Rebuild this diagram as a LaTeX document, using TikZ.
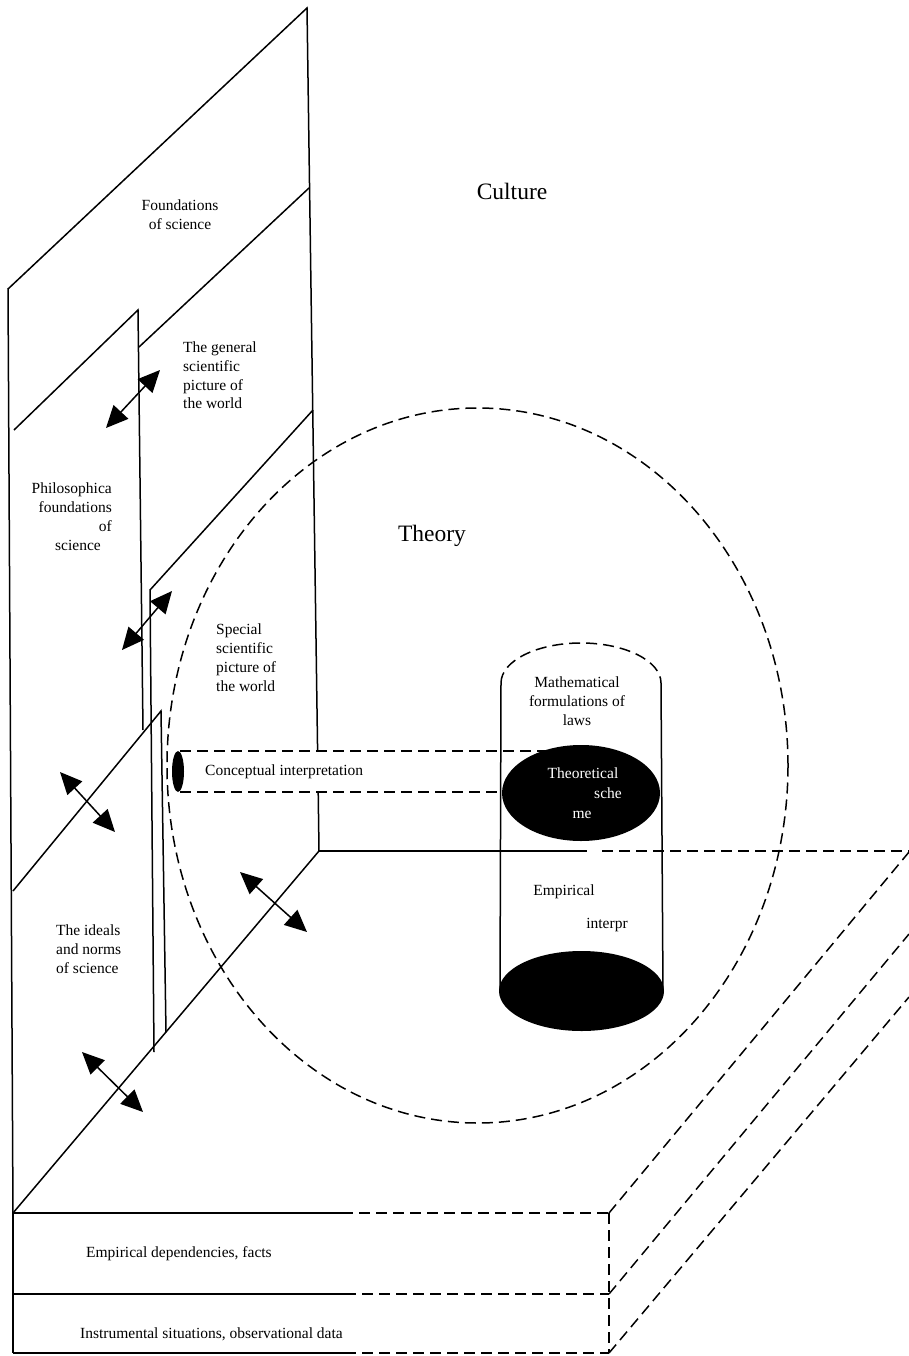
\documentclass[tikz,border=0pt]{standalone}
\usepackage{fontspec}
\setmainfont{Liberation Serif}
\usetikzlibrary{arrows.meta}
\begin{document}
\begin{tikzpicture}[x=1pt,y=-1pt,
  ln/.style={line width=1.5pt, line join=miter},
  dsh/.style={line width=1.5pt, dash pattern=on 11pt off 6pt},
  dbl/.style={line width=1.5pt, {Triangle[length=22pt,width=20pt]}-{Triangle[length=22pt,width=20pt]}},
  lbl/.style={inner sep=0pt, font=\fontsize{15.5}{19}\selectfont},
  bigl/.style={inner sep=0pt, font=\fontsize{23.5}{28}\selectfont}]
\useasboundingbox (0,0) rectangle (909,1356);
% main plane
\coordinate (FTL) at (8,289);
\coordinate (FTR) at (307,8);
\coordinate (FBR) at (319,851);
\coordinate (FBL) at (13,1213);
\coordinate (RE1) at (317.6,751);
\coordinate (RE2) at (318.2,792);
\draw[ln] (FBL) -- (FTL) -- (FTR) -- (RE1);
\draw[ln] (RE2) -- (FBR) -- (FBL);
% floor top line
\draw[ln] (FBR) -- (587,851);
\draw[dsh] (602,851) -- (909,851);
% inner planes
\draw[ln] (139,347) -- (309,188);
\draw[ln] (14,430) -- (138,310) -- (143,730);
\draw[ln] (313,410) -- (150,590) -- (154,1052);
\draw[ln] (13,891) -- (161,711) -- (166,1032);
% bottom boxes
\coordinate (B1L) at (13,1213); \coordinate (B1R) at (609,1213);
\coordinate (B2L) at (13,1294); \coordinate (B2R) at (609,1294);
\coordinate (B3L) at (13,1353); \coordinate (B3R) at (609,1353);
\draw[ln] (B1L) -- (B3L);
\draw[ln] (B1L) -- (342,1213); \draw[dsh] (342,1213) -- (B1R);
\draw[ln] (B2L) -- (345,1294); \draw[dsh] (345,1294) -- (B2R);
\draw[ln] (B3L) -- (345,1353); \draw[dsh] (345,1353) -- (B3R);
\draw[dsh] (B1R) -- (B3R);
\draw[dsh] (B1R) -- (909,852);
\draw[dsh] (B2R) -- (909,934);
\draw[dsh] (B3R) -- (909,997);
% conceptual interpretation band
\draw[dsh] (180,751) -- (545,751);
\draw[dsh] (180,792) -- (506,792);
\fill (178,771.5) ellipse [x radius=6, y radius=20.5];
% cylinder
\draw[ln] (501,683) -- (500,991);
\draw[ln] (661,683) -- (663,991);
\draw[dsh] (501,683) arc[start angle=180, end angle=360, x radius=80, y radius=40];
\fill (581,793) ellipse [x radius=79, y radius=48];
\fill (581.5,991) ellipse [x radius=82.5, y radius=40];
% theory
\draw[dsh] (477.5,765.5) ellipse [x radius=310.5, y radius=357.5];
% double arrows
\coordinate (a1) at (106,428); \coordinate (b1) at (160,370);
\coordinate (a2) at (122,650); \coordinate (b2) at (172,591);
\coordinate (a3) at (60,772);  \coordinate (b3) at (115,832);
\coordinate (a4) at (240,872); \coordinate (b4) at (307,932);
\coordinate (a5) at (82,1052); \coordinate (b5) at (143,1112);
\draw[dbl] (a1) -- (b1);
\draw[dbl] (a2) -- (b2);
\draw[dbl] (a3) -- (b3);
\draw[dbl] (a4) -- (b4);
\draw[dbl] (a5) -- (b5);
% texts
\node[bigl, anchor=base] (cult) at (512,200) {Culture};
\node[bigl, anchor=base] (theo) at (432,541) {Theory};
\node[lbl, anchor=base] (f1) at (180,211) {Foundations};
\node[lbl, anchor=base] (f2) at (180,230) {of science};
\node[lbl, anchor=base west] (g1) at (183,352) {The general};
\node[lbl, anchor=base west] (g2) at (183,371) {scientific};
\node[lbl, anchor=base west] (g3) at (183,390) {picture of};
\node[lbl, anchor=base west] (g4) at (183,408) {the world};
\node[lbl, anchor=base east] (p1) at (112,493) {Philosophica};
\node[lbl, anchor=base east] (p2) at (112,512) {foundations};
\node[lbl, anchor=base east] (p3) at (112,531) {of};
\node[lbl, anchor=base] (p4) at (78,550) {science};
\node[lbl, anchor=base west] (s1) at (216,634) {Special};
\node[lbl, anchor=base west] (s2) at (216,653) {scientific};
\node[lbl, anchor=base west] (s3) at (216,672) {picture of};
\node[lbl, anchor=base west] (s4) at (216,691) {the world};
\node[lbl, anchor=base west] (ci) at (205,775) {Conceptual interpretation};
\node[lbl, anchor=base] (m1) at (577,687) {Mathematical};
\node[lbl, anchor=base] (m2) at (577,706) {formulations of};
\node[lbl, anchor=base] (m3) at (577,725) {laws};
\node[lbl, anchor=base, text=white] (ts1) at (583,778) {Theoretical};
\node[lbl, anchor=base, text=white] (ts2) at (608,798) {sche};
\node[lbl, anchor=base, text=white] (ts3) at (582,818) {me};
\node[lbl, anchor=base] (e1) at (564,895) {Empirical};
\node[lbl, anchor=base] (e2) at (607,928) {interpr};
\node[lbl, anchor=base west] (i1) at (56,935) {The ideals};
\node[lbl, anchor=base west] (i2) at (56,954) {and norms};
\node[lbl, anchor=base west] (i3) at (56,973) {of science};
\node[lbl, anchor=base west] (ed) at (86,1257) {Empirical dependencies, facts};
\node[lbl, anchor=base west] (is) at (80,1338) {Instrumental situations, observational data};
\end{tikzpicture}
\end{document}
